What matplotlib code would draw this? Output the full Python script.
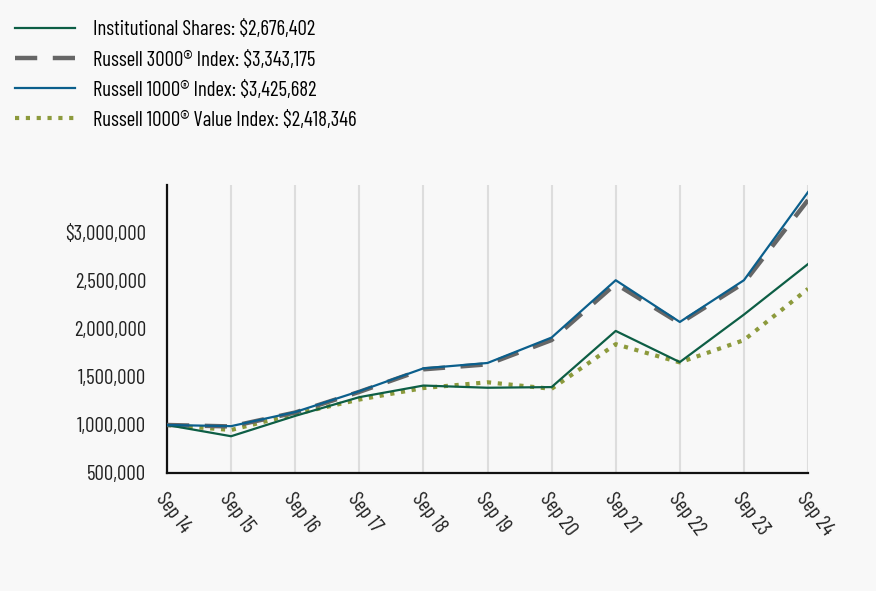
import matplotlib
matplotlib.use("Agg")
import matplotlib.pyplot as plt
from matplotlib.ticker import FuncFormatter

years = ["Sep 14", "Sep 15", "Sep 16", "Sep 17", "Sep 18", "Sep 19",
         "Sep 20", "Sep 21", "Sep 22", "Sep 23", "Sep 24"]

institutional = [1000000, 883000, 1095000, 1290000, 1411000, 1388000,
                 1395000, 1980000, 1655000, 2150000, 2676402]
russell3000 = [1000000, 985000, 1130000, 1345000, 1580000, 1632000,
               1885000, 2470000, 2060000, 2480000, 3343175]
russell1000 = [1000000, 988000, 1135000, 1352000, 1590000, 1646000,
               1911000, 2508000, 2073000, 2508000, 3425682]
value1000 = [1000000, 948000, 1115000, 1265000, 1385000, 1445000,
             1377000, 1842000, 1652000, 1884000, 2418346]

labels = ["Institutional Shares: $2,676,402",
          "Russell 3000\u00ae Index: $3,343,175",
          "Russell 1000\u00ae Index: $3,425,682",
          "Russell 1000\u00ae Value Index: $2,418,346"]

yticks = [500000, 1000000, 1500000, 2000000, 2500000, 3000000]

bg = "#f8f8f8"
main_font = "Barlow Condensed"
plt.rcParams["font.family"] = [main_font, "DejaVu Sans"]
fs = 15

fig = plt.figure(figsize=(8.76, 5.91), dpi=100, facecolor=bg)
ax = fig.add_axes([167/876, 1-473/591, (808-167)/876, (473-185)/591])
ax.set_facecolor(bg)

x = list(range(len(years)))
l1, = ax.plot(x, institutional, color="#0d5e45", lw=1.6, zorder=4)
l2, = ax.plot(x, russell3000, color="#666666", lw=3.2, dashes=(5, 3.5), zorder=3)
l3, = ax.plot(x, russell1000, color="#0b5f8c", lw=1.6, zorder=5)
l4, = ax.plot(x, value1000, color="#8c9a3c", lw=3.0, dashes=(1, 1.6), zorder=2)

ax.set_xlim(0, len(years) - 1)
ax.set_ylim(500000, 3500000)
ax.set_xticks(x)
ax.set_xticklabels(years, rotation=-53, ha="left", va="top",
                   rotation_mode="anchor", fontsize=fs)
ax.set_yticks(yticks)
ax.yaxis.set_major_formatter(FuncFormatter(
    lambda v, p: ("$" if v == 3000000 else "") + f"{int(v):,}"))
ax.tick_params(axis="both", length=0, colors="#222222", labelsize=fs)
ax.tick_params(axis="y", pad=15)
ax.tick_params(axis="x", pad=12)
ax.grid(axis="x", color="#dddddd", lw=1.5)
ax.grid(axis="y", visible=False)
ax.set_axisbelow(True)
for s in ["top", "right"]:
    ax.spines[s].set_visible(False)
for s in ["left", "bottom"]:
    ax.spines[s].set_color("#111111")
    ax.spines[s].set_linewidth(1.6)

fig.legend([l1, l2, l3, l4], labels, loc="upper left",
           bbox_to_anchor=(0.0, 0.99), frameon=False, fontsize=fs,
           handlelength=2.9, handletextpad=0.85, labelspacing=0.53,
           borderaxespad=0.3)

fig.savefig("out.png", dpi=100, facecolor=bg)
